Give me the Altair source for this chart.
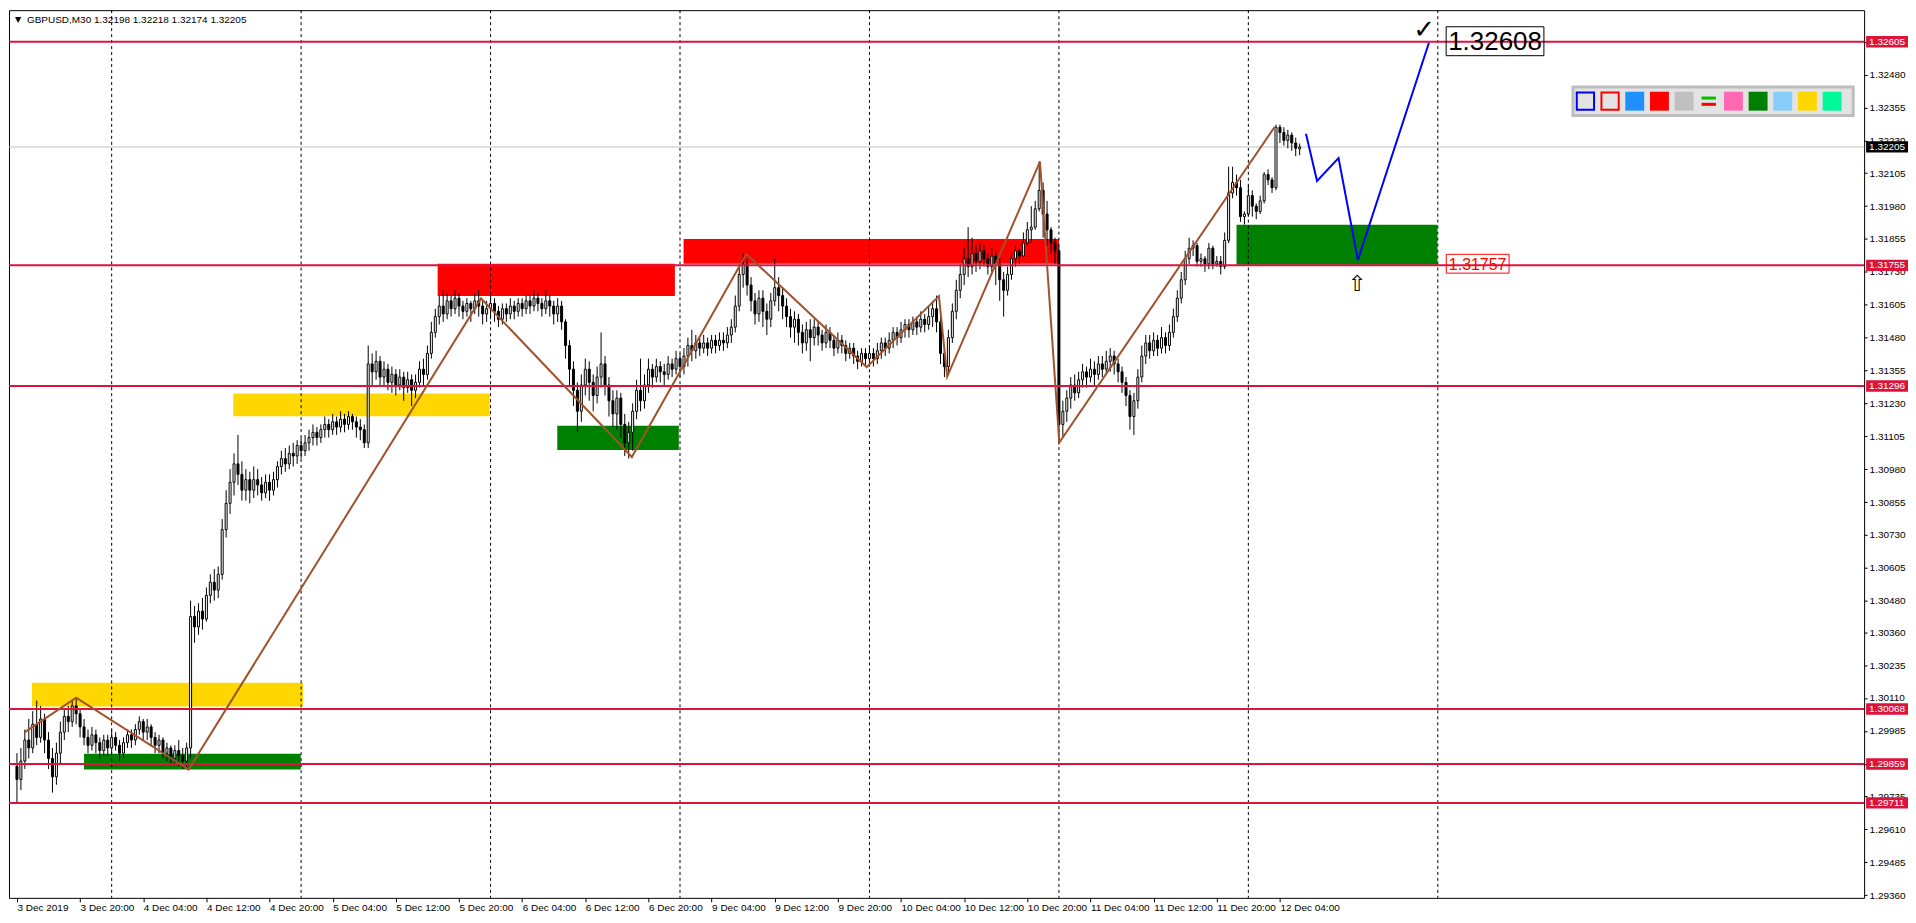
import altair as alt
import pandas as pd

FONT = "Liberation Sans"
TITLE = "GBPUSD,M30  1.32198 1.32218 1.32174 1.32205"

# ---------------- candle data (M30 bars, index 0 = 3 Dec 12:00) ----------------
first_open = 1.2985

close_03 = [1.2980,1.2987,1.2995,1.2992,1.3001,1.2996,1.3003,1.2995,1.2988,1.2981,1.2990,1.2998,
            1.3004,1.3002,1.3008,1.3005,1.3000,1.2996,1.2993,1.2997,1.2994,1.2991,1.2995,1.2992]
high_03 = [1.2990,1.2992,1.2999,1.3003,1.3006,1.3010,1.3008,1.3005,1.2998,1.2992,1.2994,1.3002,
           1.3007,1.3008,1.3010,1.3011,1.3007,1.3003,1.2999,1.3000,1.2999,1.2996,1.2997,1.2997]
low_03 = [1.2971,1.2976,1.2984,1.2988,1.2990,1.2993,1.2994,1.2990,1.2984,1.2975,1.2978,1.2986,
          1.2995,1.2998,1.3000,1.3001,1.2996,1.2993,1.2990,1.2991,1.2990,1.2988,1.2989,1.2989]

close_04 = [1.2996,1.2993,1.2990,1.2994,1.2997,1.2995,1.2999,1.3002,1.2998,1.3000,1.2996,1.2993,
            1.2995,1.2990,1.2992,1.2988,1.2991,1.2989,1.2987,1.2992,
            1.3042,1.3038,1.3044,1.3041,1.3050,1.3055,1.3052,1.3058,1.3075,1.3085,1.3093,1.3100,
            1.3096,1.3090,1.3094,1.3090,1.3094,1.3092,1.3089,1.3093,1.3090,1.3094,1.3099,1.3102,
            1.3100,1.3104,1.3103,1.3107]
high_04 = [1.2999,1.2998,1.2995,1.2996,1.2999,1.2999,1.3001,1.3004,1.3003,1.3003,1.3001,1.2998,
           1.2997,1.2996,1.2994,1.2993,1.2993,1.2995,1.2992,1.2994,
           1.3048,1.3046,1.3047,1.3049,1.3053,1.3058,1.3060,1.3061,1.3079,1.3090,1.3098,1.3104,
           1.3111,1.3101,1.3098,1.3097,1.3099,1.3098,1.3095,1.3096,1.3096,1.3097,1.3101,1.3105,
           1.3106,1.3107,1.3108,1.3109]
low_04 = [1.2990,1.2991,1.2987,1.2988,1.2992,1.2992,1.2993,1.2997,1.2995,1.2995,1.2993,1.2990,
          1.2990,1.2988,1.2987,1.2986,1.2986,1.2985,1.2984,1.2984,
          1.2988,1.3032,1.3035,1.3037,1.3040,1.3047,1.3048,1.3049,1.3056,1.3072,1.3081,1.3088,
          1.3092,1.3086,1.3086,1.3085,1.3087,1.3088,1.3086,1.3087,1.3086,1.3088,1.3091,1.3096,
          1.3097,1.3098,1.3099,1.3100]

close_05 = [1.3105,1.3108,1.3110,1.3112,1.3110,1.3113,1.3115,1.3113,1.3116,1.3114,1.3117,1.3115,
            1.3118,1.3116,1.3114,1.3113,1.3108,1.3138,
            1.3135,1.3139,1.3133,1.3136,1.3131,1.3134,1.3130,1.3133,1.3129,1.3132,1.3128,1.3131,
            1.3136,1.3134,1.3142,1.3150,1.3156,1.3160,1.3157,1.3162,1.3159,1.3163,1.3160,1.3158,
            1.3161,1.3159,1.3162,1.3160,1.3157,1.3159]
high_05 = [1.3110,1.3111,1.3113,1.3115,1.3114,1.3115,1.3118,1.3117,1.3119,1.3118,1.3120,1.3119,
           1.3120,1.3119,1.3118,1.3117,1.3115,1.3145,
           1.3142,1.3143,1.3141,1.3139,1.3138,1.3137,1.3136,1.3136,1.3135,1.3135,1.3134,1.3134,
           1.3139,1.3140,1.3145,1.3154,1.3159,1.3164,1.3166,1.3165,1.3164,1.3166,1.3165,1.3162,
           1.3163,1.3162,1.3165,1.3166,1.3162,1.3162]
low_05 = [1.3102,1.3103,1.3105,1.3107,1.3107,1.3108,1.3110,1.3110,1.3111,1.3111,1.3112,1.3112,
          1.3113,1.3113,1.3110,1.3109,1.3106,1.3106,
          1.3130,1.3132,1.3130,1.3130,1.3128,1.3127,1.3126,1.3128,1.3124,1.3127,1.3122,1.3125,
          1.3129,1.3130,1.3132,1.3140,1.3148,1.3153,1.3154,1.3155,1.3156,1.3157,1.3156,1.3155,
          1.3156,1.3154,1.3157,1.3156,1.3153,1.3154]

close_06 = [1.3161,1.3158,1.3155,1.3159,1.3157,1.3160,1.3158,1.3161,1.3159,1.3162,1.3160,1.3163,
            1.3161,1.3159,1.3162,1.3160,1.3157,1.3160,1.3154,
            1.3145,1.3136,1.3128,1.3120,1.3130,1.3136,1.3131,1.3126,1.3133,1.3138,1.3130,1.3124,
            1.3119,1.3125,1.3115,1.3108,1.3112,1.3120,1.3128,1.3124,1.3130,1.3136,1.3133,1.3137,
            1.3135,1.3134,1.3138,1.3136,1.3140]
high_06 = [1.3164,1.3163,1.3160,1.3161,1.3161,1.3163,1.3162,1.3163,1.3163,1.3164,1.3164,1.3166,
           1.3165,1.3163,1.3166,1.3164,1.3162,1.3163,1.3162,
           1.3155,1.3147,1.3139,1.3131,1.3134,1.3140,1.3139,1.3134,1.3137,1.3150,1.3141,1.3133,
           1.3128,1.3128,1.3127,1.3119,1.3116,1.3123,1.3132,1.3140,1.3134,1.3140,1.3138,1.3140,
           1.3139,1.3138,1.3141,1.3140,1.3143]
low_06 = [1.3155,1.3154,1.3152,1.3153,1.3154,1.3155,1.3155,1.3156,1.3156,1.3157,1.3157,1.3158,
          1.3158,1.3156,1.3157,1.3156,1.3153,1.3154,1.3151,
          1.3140,1.3130,1.3122,1.3112,1.3116,1.3126,1.3124,1.3120,1.3123,1.3129,1.3126,1.3118,
          1.3114,1.3113,1.3110,1.3103,1.3102,1.3105,1.3117,1.3120,1.3121,1.3127,1.3129,1.3131,
          1.3131,1.3130,1.3132,1.3133,1.3134]

close_09 = [1.3137,1.3141,1.3145,1.3143,1.3146,1.3144,1.3146,1.3144,1.3147,1.3145,1.3147,1.3146,
            1.3149,1.3152,1.3160,1.3172,1.3176,1.3168,1.3162,1.3157,1.3163,1.3158,1.3155,1.3162,
            1.3167,1.3164,1.3160,1.3156,1.3152,1.3155,1.3150,1.3146,1.3151,1.3148,1.3152,1.3149,
            1.3146,1.3150,1.3147,1.3144,1.3147,1.3145,1.3142,1.3144,1.3141,1.3139,1.3142,1.3140]
high_09 = [1.3142,1.3144,1.3148,1.3151,1.3149,1.3148,1.3149,1.3148,1.3149,1.3149,1.3150,1.3150,
           1.3152,1.3155,1.3164,1.3176,1.3180,1.3178,1.3171,1.3165,1.3166,1.3166,1.3161,1.3165,
           1.3178,1.3171,1.3167,1.3163,1.3159,1.3158,1.3157,1.3153,1.3154,1.3155,1.3155,1.3154,
           1.3151,1.3153,1.3152,1.3149,1.3150,1.3149,1.3147,1.3146,1.3146,1.3143,1.3144,1.3144]
low_09 = [1.3133,1.3134,1.3137,1.3139,1.3140,1.3141,1.3142,1.3141,1.3142,1.3142,1.3143,1.3143,
          1.3144,1.3146,1.3150,1.3158,1.3167,1.3164,1.3158,1.3153,1.3154,1.3152,1.3149,1.3152,
          1.3160,1.3158,1.3155,1.3152,1.3148,1.3146,1.3145,1.3142,1.3143,1.3139,1.3145,1.3145,
          1.3143,1.3144,1.3144,1.3141,1.3142,1.3142,1.3139,1.3140,1.3138,1.3136,1.3137,1.3137]

close_10 = [1.3142,1.3140,1.3143,1.3146,1.3144,1.3147,1.3150,1.3148,1.3151,1.3153,1.3151,1.3154,
            1.3152,1.3155,1.3153,1.3156,1.3159,1.3154,1.3142,1.3137,1.3148,1.3158,1.3166,1.3172,
            1.3178,1.3175,1.3180,1.3177,1.3181,1.3178,1.3175,1.3179,1.3176,1.3170,1.3166,1.3172,
            1.3178,1.3181,1.3179,1.3184,1.3189,1.3190,1.3197,1.3204,1.3195,1.3189,1.3184,1.3181]
high_10 = [1.3145,1.3144,1.3146,1.3148,1.3148,1.3150,1.3152,1.3152,1.3154,1.3155,1.3155,1.3156,
           1.3156,1.3158,1.3157,1.3160,1.3162,1.3164,1.3156,1.3145,1.3151,1.3161,1.3170,1.3176,
           1.3182,1.3190,1.3186,1.3183,1.3184,1.3183,1.3180,1.3182,1.3181,1.3178,1.3173,1.3175,
           1.3180,1.3183,1.3182,1.3188,1.3192,1.3198,1.3200,1.3215,1.3207,1.3200,1.3190,1.3186]
low_10 = [1.3137,1.3137,1.3138,1.3140,1.3141,1.3142,1.3144,1.3145,1.3146,1.3148,1.3148,1.3149,
          1.3149,1.3150,1.3150,1.3151,1.3152,1.3150,1.3138,1.3133,1.3134,1.3146,1.3155,1.3163,
          1.3168,1.3171,1.3172,1.3173,1.3174,1.3175,1.3172,1.3173,1.3168,1.3162,1.3156,1.3164,
          1.3170,1.3175,1.3176,1.3179,1.3183,1.3184,1.3189,1.3196,1.3186,1.3183,1.3180,1.3176]

close_11 = [1.3115,1.3120,1.3125,1.3130,1.3127,1.3132,1.3135,1.3133,1.3136,1.3134,1.3138,1.3136,
            1.3139,1.3141,1.3138,1.3135,1.3131,1.3126,1.3118,1.3124,1.3133,1.3141,1.3146,1.3143,
            1.3147,1.3144,1.3148,1.3145,1.3150,1.3156,1.3163,1.3170,1.3178,1.3182,1.3183,1.3177,
            1.3178,1.3176,1.3182,1.3176,1.3177,1.3175,1.3185,1.3203,1.3207,1.3205,1.3194,1.3195]
high_11 = [1.3183,1.3124,1.3128,1.3133,1.3134,1.3135,1.3138,1.3137,1.3140,1.3139,1.3141,1.3141,
           1.3143,1.3144,1.3143,1.3140,1.3137,1.3133,1.3128,1.3127,1.3136,1.3145,1.3149,1.3149,
           1.3150,1.3149,1.3152,1.3150,1.3153,1.3159,1.3166,1.3173,1.3181,1.3186,1.3185,1.3184,
           1.3180,1.3179,1.3184,1.3183,1.3179,1.3179,1.3188,1.3213,1.3213,1.3210,1.3208,1.3196]
low_11 = [1.3108,1.3110,1.3116,1.3121,1.3124,1.3125,1.3129,1.3129,1.3131,1.3130,1.3132,1.3133,
          1.3134,1.3135,1.3134,1.3131,1.3127,1.3122,1.3113,1.3111,1.3121,1.3131,1.3138,1.3140,
          1.3141,1.3141,1.3142,1.3142,1.3143,1.3148,1.3154,1.3161,1.3168,1.3176,1.3179,1.3175,
          1.3175,1.3173,1.3174,1.3174,1.3175,1.3172,1.3174,1.3184,1.3201,1.3202,1.3192,1.3191]

close_12 = [1.3202,1.3198,1.3196,1.3200,1.3210,1.3208,1.3205,1.3228,1.3226,1.3223,1.3225,1.3222,
            1.3220,1.32205]
high_12 = [1.3206,1.3204,1.3199,1.3202,1.3211,1.3212,1.3209,1.3229,1.3229,1.3228,1.3227,1.3226,
           1.3224,1.32218]
low_12 = [1.3194,1.3194,1.3193,1.3195,1.3199,1.3206,1.3203,1.3204,1.3222,1.3221,1.3220,1.3219,
          1.3217,1.32174]

# ---------------- axis labels ----------------
time_labels = ["3 Dec 2019", "3 Dec 20:00", "4 Dec 04:00", "4 Dec 12:00", "4 Dec 20:00",
               "5 Dec 04:00", "5 Dec 12:00", "5 Dec 20:00", "6 Dec 04:00", "6 Dec 12:00",
               "6 Dec 20:00", "9 Dec 04:00", "9 Dec 12:00", "9 Dec 20:00", "10 Dec 04:00",
               "10 Dec 12:00", "10 Dec 20:00", "11 Dec 04:00", "11 Dec 12:00", "11 Dec 20:00",
               "12 Dec 04:00"]
time_label_bars = [0, 16, 32, 48, 64, 80, 96, 112, 128, 144, 160, 176, 192, 208, 224, 240,
                   256, 272, 288, 304, 320]
day_start_bars = [24, 72, 120, 168, 216, 264, 312, 360]
price_ticks = [1.32605, 1.32480, 1.32355, 1.32230, 1.32105, 1.31980, 1.31855, 1.31730, 1.31605,
               1.31480, 1.31355, 1.31230, 1.31105, 1.30980, 1.30855, 1.30730, 1.30605, 1.30480,
               1.30360, 1.30235, 1.30110, 1.29985, 1.29860, 1.29735, 1.29610, 1.29485, 1.29360]

# ---------------- objects ----------------
level_prices = [1.32605, 1.31755, 1.31296, 1.30068, 1.29859, 1.29711]
bid_price = 1.32205

zigzag_bars = [2, 15, 43.5, 117.6, 155.8, 184.8, 215.3, 233.6, 235.7, 259.2, 264.1, 318.7]
zigzag_prices = [1.29980, 1.30111, 1.29838, 1.31629, 1.31026, 1.31798, 1.31368, 1.31638,
                 1.31332, 1.32149, 1.31081, 1.32282]

forecast_bars = [326.6, 329.4, 334.85, 339.75, 357.75]
forecast_prices = [1.32255, 1.32076, 1.32163, 1.31775, 1.32601]

zone_from_bar = [3.8, 17.0, 54.8, 106.6, 136.9, 168.9, 309.0]
zone_to_bar = [72.5, 71.9, 119.8, 166.7, 167.7, 264.0, 359.9]
zone_low = [1.30078, 1.29838, 1.31181, 1.31638, 1.31053, 1.31761, 1.31757]
zone_high = [1.30168, 1.29898, 1.31268, 1.31761, 1.31145, 1.31855, 1.31909]
zone_color = ["#FFD700", "#008000", "#FFD700", "#FF0000", "#008000", "#FF0000", "#008000"]

target_label = "1.32608"
target_bar, target_price = 374.5, 1.32607
support_label = "1.31757"
support_bar, support_price = 370.1, 1.31761
check_bar, check_price = 356.5, 1.32650
arrow_bar, arrow_price = 339.5, 1.31684

toolbar_colors = ["#1E90FF", "#FF0000", "#C0C0C0", None, "#FF69B4", "#008000",
                  "#87CEFA", "#FFD700", "#00FA9A"]

# ---------------- build frames ----------------
closes = close_03 + close_04 + close_05 + close_06 + close_09 + close_10 + close_11 + close_12
highs = high_03 + high_04 + high_05 + high_06 + high_09 + high_10 + high_11 + high_12
lows = low_03 + low_04 + low_05 + low_06 + low_09 + low_10 + low_11 + low_12
assert len(closes) == len(highs) == len(lows), (len(closes), len(highs), len(lows))
opens = [first_open] + closes[:-1]
opens[-1] = 1.32198
n = len(closes)
candles = pd.DataFrame({
    "i": list(range(n)), "o": opens, "c": closes,
    "h": [max(h, o, c) for h, o, c in zip(highs, opens, closes)],
    "l": [min(l, o, c) for l, o, c in zip(lows, opens, closes)],
})

W, H = 1860, 890
XS = alt.Scale(domain=[-0.75, 466.75], nice=False, zero=False)
YS = alt.Scale(domain=[1.29350, 1.32725], nice=False, zero=False)
label_js = "[" + ",".join("'" + s + "'" for s in time_labels) + "]"
XAX = alt.Axis(values=time_label_bars, labelExpr=label_js + "[round(datum.value/16)]",
               title=None, grid=False, domain=False, ticks=True, tickSize=4, tickColor="black",
               labelAlign="left", labelFlush=False, labelOverlap=False, labelPadding=1,
               labelFont=FONT, labelFontSize=10, labelColor="black")
YAX = alt.Axis(orient="right", values=price_ticks, format=".5f", title=None, grid=False,
               domain=False, ticks=True, tickSize=3, tickColor="black", labelPadding=2,
               labelOverlap=False, labelFont=FONT, labelFontSize=10, labelColor="black")


def X(f):
    return alt.X(f, type="quantitative", scale=XS, axis=XAX)


def Y(f):
    return alt.Y(f, type="quantitative", scale=YS, axis=YAX)


zones = pd.DataFrame({"x1": zone_from_bar, "x2": zone_to_bar, "y1": zone_low,
                      "y2": zone_high, "col": zone_color})
zone_layer = alt.Chart(zones).mark_rect().encode(
    x=X("x1"), x2="x2", y=Y("y1"), y2="y2", color=alt.Color("col:N", scale=None))

grid_layer = alt.Chart(pd.DataFrame({"i": day_start_bars})).mark_rule(
    color="black", strokeWidth=1, strokeDash=[3, 3]).encode(x=X("i"))

bid_layer = alt.Chart(pd.DataFrame({"p": [bid_price]})).mark_rule(
    color="#C0C0C0", strokeWidth=1).encode(y=Y("p"))

wick_layer = alt.Chart(candles).mark_rule(color="black", strokeWidth=1).encode(
    x=X("i"), y=Y("l"), y2="h")

body_layer = alt.Chart(candles).mark_bar(size=2, stroke="black", strokeWidth=1,
                                         orient="vertical").encode(
    x=X("i"), y=Y("o"), y2="c",
    fill=alt.condition("datum.c >= datum.o", alt.value("white"), alt.value("black")))

level_layer = alt.Chart(pd.DataFrame({"p": level_prices})).mark_rule(
    color="#DC143C", strokeWidth=2).encode(y=Y("p"))

zz = pd.DataFrame({"i": zigzag_bars, "p": zigzag_prices, "k": range(len(zigzag_bars))})
zz_layer = alt.Chart(zz).mark_line(color="#A0522D", strokeWidth=2).encode(
    x=X("i"), y=Y("p"), order="k:Q")

fc = pd.DataFrame({"i": forecast_bars, "p": forecast_prices, "k": range(len(forecast_bars))})
fc_layer = alt.Chart(fc).mark_line(color="#0000FF", strokeWidth=2).encode(
    x=X("i"), y=Y("p"), order="k:Q")

# annotations
def box_path(ratio):
    return f"M -1 {-ratio} L 1 {-ratio} L 1 {ratio} L -1 {ratio} Z"

tgt = pd.DataFrame({"i": [target_bar], "p": [target_price], "t": [target_label]})
tgt_box = alt.Chart(tgt).mark_point(shape=box_path(0.296), size=98 * 98, filled=False,
                                    stroke="black", strokeWidth=1, opacity=1).encode(
    x=X("i"), y=Y("p"))
tgt_txt = alt.Chart(tgt).mark_text(font=FONT, fontSize=26, color="black", align="center",
                                   baseline="middle", dy=1).encode(x=X("i"), y=Y("p"), text="t:N")

sup = pd.DataFrame({"i": [support_bar], "p": [support_price], "t": [support_label]})
sup_box = alt.Chart(sup).mark_point(shape=box_path(0.30), size=63 * 63, filled=False,
                                    stroke="#FF0000", strokeWidth=1, opacity=1).encode(
    x=X("i"), y=Y("p"))
sup_txt = alt.Chart(sup).mark_text(font=FONT, fontSize=16, color="#FF0000", align="center",
                                   baseline="middle", dy=1).encode(x=X("i"), y=Y("p"), text="t:N")

chk = alt.Chart(pd.DataFrame({"i": [check_bar], "p": [check_price], "t": ["✓"]})).mark_text(
    font="DejaVu Sans", fontSize=26, color="black", align="center", baseline="middle").encode(
    x=X("i"), y=Y("p"), text="t:N")
arw = alt.Chart(pd.DataFrame({"i": [arrow_bar], "p": [arrow_price], "t": ["⇧"]})).mark_text(
    font="DejaVu Sans", fontSize=22, color="black", align="center", baseline="middle").encode(
    x=X("i"), y=Y("p"), text="t:N")

# right-axis price tags
tags = pd.DataFrame({
    "p": level_prices + [bid_price],
    "t": [f"{v:.5f}" for v in level_prices + [bid_price]],
    "bg": ["#DC143C"] * len(level_prices) + ["#000000"],
})
tag_bg = alt.Chart(tags).mark_point(shape=box_path(0.27), size=42 * 42, filled=True,
                                    opacity=1, strokeWidth=0).encode(
    x=alt.value(W + 23), y=Y("p"), fill=alt.Fill("bg:N", scale=None))
tag_txt = alt.Chart(tags).mark_text(font=FONT, fontSize=10, color="white", align="left",
                                    baseline="middle").encode(
    x=alt.value(W + 5), y=Y("p"), text="t:N")

# colour toolbar (top right)
tb_top, tb_bottom = 1.32433, 1.32325
tb_mid = (tb_top + tb_bottom) / 2
tb_bg = alt.Chart(pd.DataFrame({"x1": [394.25], "x2": [465.25], "y1": [tb_bottom],
                                "y2": [tb_top]})).mark_rect(
    fill="#E3E3E3", stroke="#BDBDBD", strokeWidth=3).encode(
    x=X("x1"), x2="x2", y=Y("y1"), y2="y2")
outline_sw = pd.DataFrame({"i": [397.4, 403.65], "p": [tb_mid, tb_mid],
                           "s": ["#0000FF", "#FF0000"]})
tb_outline = alt.Chart(outline_sw).mark_point(shape="square", size=300, filled=False,
                                              strokeWidth=2, opacity=1).encode(
    x=X("i"), y=Y("p"), stroke=alt.Stroke("s:N", scale=None))
fill_rows = [(397.4 + 6.25 * (k + 2), c) for k, c in enumerate(toolbar_colors) if c]
tb_fill = alt.Chart(pd.DataFrame({"i": [r[0] for r in fill_rows], "p": [tb_mid] * len(fill_rows),
                                  "f": [r[1] for r in fill_rows]})).mark_point(
    shape="square", size=360, filled=True, opacity=1, strokeWidth=0).encode(
    x=X("i"), y=Y("p"), fill=alt.Fill("f:N", scale=None))
icon_x = 397.4 + 6.25 * 5
tb_icon = alt.Chart(pd.DataFrame({"i": [icon_x, icon_x], "p": [tb_mid, tb_mid],
                                  "s": ["#00C000", "#FF0000"],
                                  "sh": ["M -0.8 -0.35 L 0.8 -0.35", "M -0.8 0.35 L 0.8 0.35"]})
                    ).mark_point(size=324, filled=False, strokeWidth=3, opacity=1).encode(
    x=X("i"), y=Y("p"), stroke=alt.Stroke("s:N", scale=None), shape=alt.Shape("sh:N", scale=None))

# header text
hdr = pd.DataFrame({"t": [TITLE]})
hdr_tri = alt.Chart(pd.DataFrame({"t": ["▼"]})).mark_text(
    font="DejaVu Sans", fontSize=8, color="black", align="left", baseline="middle").encode(
    x=alt.value(6), y=alt.value(10), text="t:N")
hdr_txt = alt.Chart(hdr).mark_text(font=FONT, fontSize=10, color="black", align="left",
                                   baseline="middle").encode(
    x=alt.value(18), y=alt.value(10), text="t:N")

chart = alt.layer(
    zone_layer, grid_layer, bid_layer, wick_layer, body_layer, level_layer,
    zz_layer, fc_layer, tgt_box, tgt_txt, sup_box, sup_txt, chk, arw,
    tag_bg, tag_txt, tb_bg, tb_outline, tb_fill, tb_icon, hdr_tri, hdr_txt,
).properties(width=W, height=H, padding=0, background="white").configure_view(
    stroke="black", strokeWidth=1)

chart.save("out.html", embed_options={"renderer": "svg", "actions": False})
